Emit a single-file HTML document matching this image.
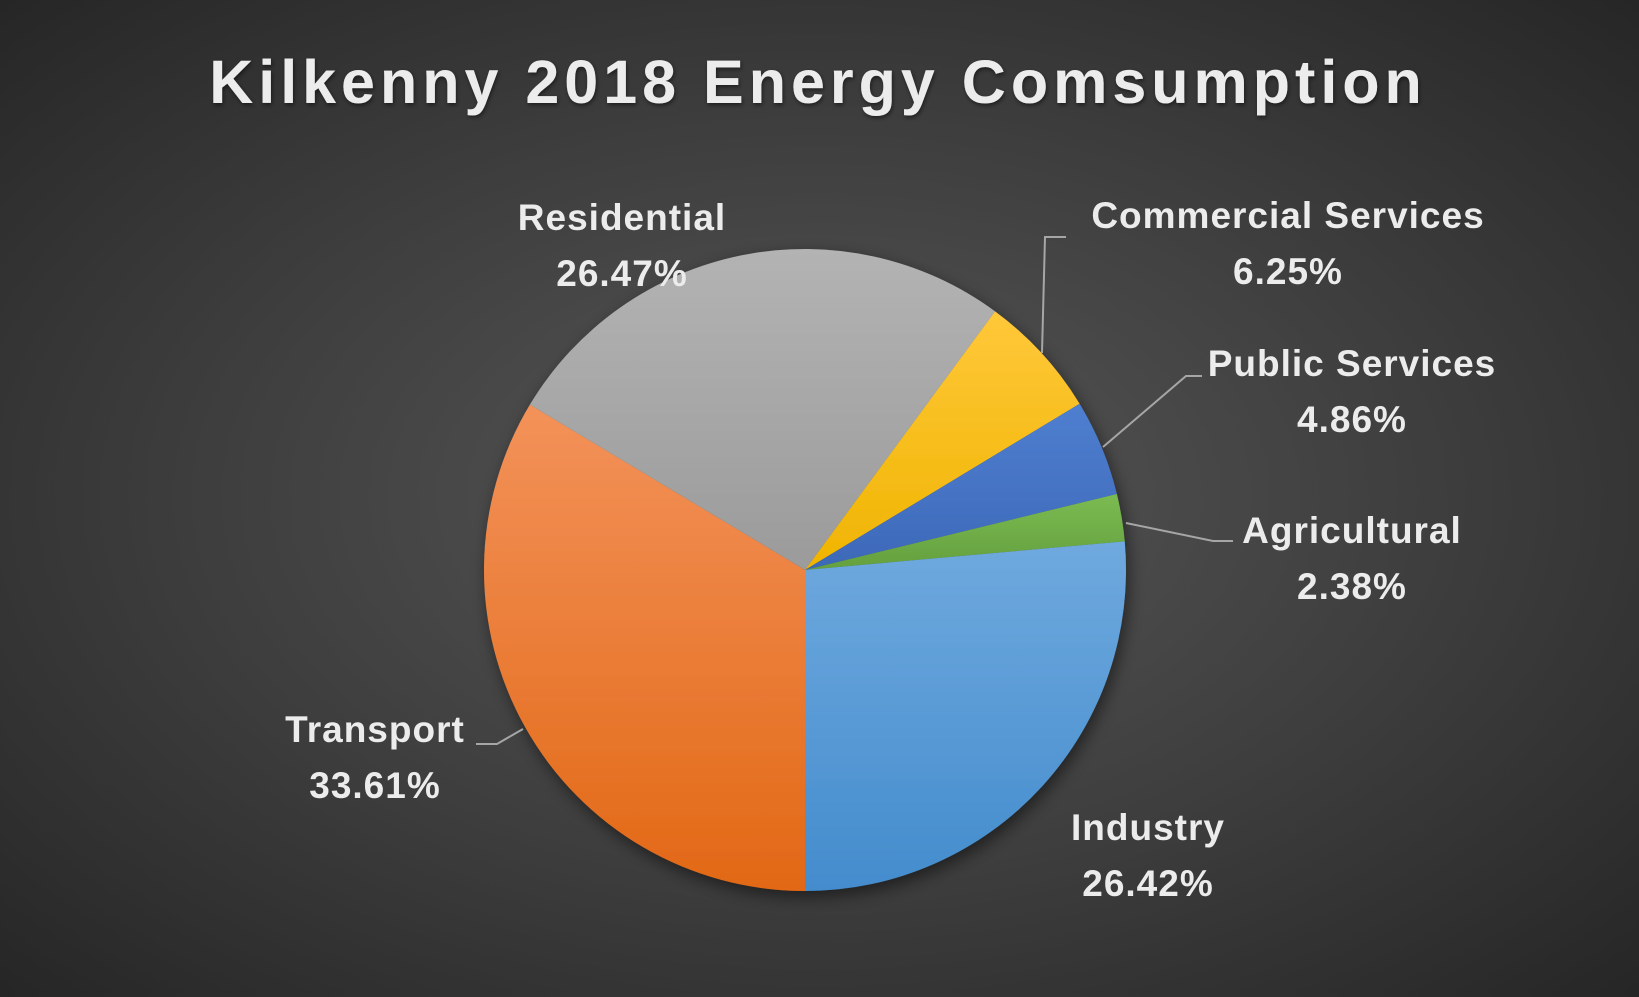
<!DOCTYPE html>
<html><head><meta charset="utf-8"><style>
html,body{margin:0;padding:0;}
body{width:1639px;height:992px;overflow:hidden;background:radial-gradient(ellipse at 50% 50%,#575757 0%,#3d3d3d 55%,#262626 100%);font-family:"Liberation Sans",sans-serif;}
svg text{font-family:"Liberation Sans",sans-serif;font-weight:bold;fill:#ececec;}
</style></head><body>
<svg id="chart" width="1639" height="992" viewBox="0 0 1639 992" xmlns="http://www.w3.org/2000/svg">
<defs>
<filter id="sh" x="-20%" y="-20%" width="140%" height="140%"><feDropShadow dx="3" dy="6" stdDeviation="8" flood-color="#000" flood-opacity="0.5"/></filter>
<filter id="tsh"><feDropShadow dx="1" dy="2" stdDeviation="2" flood-color="#000" flood-opacity="0.5"/></filter>
<linearGradient id="g0" x1="0" y1="0" x2="0" y2="1"><stop offset="0" stop-color="#f3925a"/><stop offset="1" stop-color="#e26815"/></linearGradient>
<linearGradient id="g1" x1="0" y1="0" x2="0" y2="1"><stop offset="0" stop-color="#b3b3b3"/><stop offset="1" stop-color="#9b9b9b"/></linearGradient>
<linearGradient id="g2" x1="0" y1="0" x2="0" y2="1"><stop offset="0" stop-color="#ffc83a"/><stop offset="1" stop-color="#f0b400"/></linearGradient>
<linearGradient id="g3" x1="0" y1="0" x2="0" y2="1"><stop offset="0" stop-color="#4f7fd0"/><stop offset="1" stop-color="#3d68b8"/></linearGradient>
<linearGradient id="g4" x1="0" y1="0" x2="0" y2="1"><stop offset="0" stop-color="#7bbb52"/><stop offset="1" stop-color="#64a03e"/></linearGradient>
<linearGradient id="g5" x1="0" y1="0" x2="0" y2="1"><stop offset="0" stop-color="#6fa9de"/><stop offset="1" stop-color="#438ccd"/></linearGradient>
</defs>
<text x="818" y="103" text-anchor="middle" font-size="61" letter-spacing="5" filter="url(#tsh)">Kilkenny 2018 Energy Comsumption</text>
<g id="slices" filter="url(#sh)"></g>
<g id="leaders" stroke="#a6a6a6" stroke-width="2" fill="none">
<polyline points="1066,237 1045,237 1042,353"/>
<polyline points="1202,376 1186,376 1103,447"/>
<polyline points="1126,523 1213,541 1233,541"/>
<polyline points="476,744 497,744 523,729"/>
</g>
<g id="labels"></g>
</svg>
<script>
const categories = ["Transport","Residential","Commercial Services","Public Services","Agricultural","Industry"];
const values = [33.61,26.47,6.25,4.86,2.38,26.42];
const valueLabels = ["33.61%","26.47%","6.25%","4.86%","2.38%","26.42%"];
const fills = ["url(#g0)","url(#g1)","url(#g2)","url(#g3)","url(#g4)","url(#g5)"];
const labelPos = [[375,729],[622,217],[1288,215],[1352,363],[1352,530],[1148,827]];
const cx=805, cy=570, r=321, startDeg=180;
const NS="http://www.w3.org/2000/svg";
const total = values.reduce((a,b)=>a+b,0);
function pt(deg){const a=deg*Math.PI/180;return [cx+r*Math.sin(a), cy-r*Math.cos(a)];}
const sg=document.getElementById('slices'), lg=document.getElementById('labels');
let acc=startDeg;
values.forEach((v,i)=>{
  const sweep=v/total*360;
  const p0=pt(acc), p1=pt(acc+sweep);
  const large=sweep>180?1:0;
  const p=document.createElementNS(NS,'path');
  p.setAttribute('d',`M${cx},${cy} L${p0[0]},${p0[1]} A${r},${r} 0 ${large} 1 ${p1[0]},${p1[1]} Z`);
  p.setAttribute('fill',fills[i]);
  
  
  sg.appendChild(p);
  acc+=sweep;
  const [lx,ly]=labelPos[i];
  const t1=document.createElementNS(NS,'text');
  t1.setAttribute('x',lx);t1.setAttribute('y',ly+13);t1.setAttribute('text-anchor','middle');t1.setAttribute('font-size','37');t1.setAttribute('letter-spacing','1');
  t1.textContent=categories[i];
  
  
  lg.appendChild(t1);
  const t2=document.createElementNS(NS,'text');
  t2.setAttribute('x',lx);t2.setAttribute('y',ly+69);t2.setAttribute('text-anchor','middle');t2.setAttribute('font-size','37');t2.setAttribute('letter-spacing','1');
  t2.textContent=valueLabels[i];
  
  
  lg.appendChild(t2);
});
</script>
</body></html>
